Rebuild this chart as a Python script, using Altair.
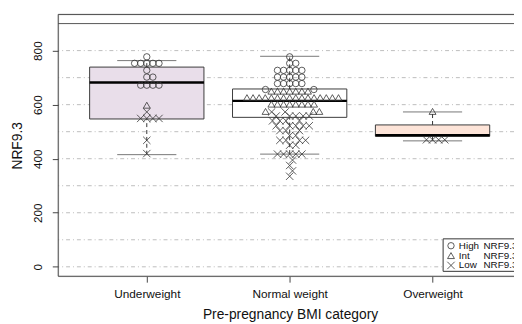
import math
import altair as alt
import pandas as pd

# ---------------- data ----------------
categories = ["Underweight", "Normal weight", "Overweight"]
positions = [1, 2, 3]

# NRF9.3 values of the individual points, by group
uw_high = [777, 753, 753, 753, 753, 753, 727, 702, 702, 672, 672, 672, 672]
uw_int = [598]
uw_low = [573, 549, 549, 549, 549, 468, 419]

nw_high = [777, 753, 753, 727, 727, 727, 727, 727, 702, 702, 702, 702, 702,
           678, 678, 678, 678, 678, 656, 656]
nw_int = [650] * 7 + [626] * 16 + [602] * 8 + [575] * 3
nw_low = [573, 573, 558, 558, 558, 558, 558, 540, 540, 540, 540,
          522, 522, 522, 522, 522, 504, 504, 504, 486, 486,
          468, 468, 468, 468, 450, 450, 417, 417, 417, 417, 417,
          395, 375, 355, 335]

ow_high = []
ow_int = [575]
ow_low = [470, 470, 470, 470]

# box statistics (lower whisker, Q1, median, Q3, upper whisker)
box_lower = [415, 417, 466]
box_q1 = [547, 553, 483]
box_median = [682, 614, 487]
box_q3 = [739, 658, 525]
box_upper = [763, 779, 573]
box_fill = ["#E9DEEA", "#FFFFFF", "#FDE4D8"]

grid_values = [0, 100, 200, 300, 400, 500, 600, 700, 800]
ref_line = [900]
y_ticks = [0, 200, 400, 600, 800]

group_names = ["High", "Int", "Low"]
legend_words = ["High", "Int", "Low"]
legend_suffix = "NRF9.3"

# ---------------- layout ----------------
W, H = 463, 266
X_DOM = [0.38, 3.57]
Y_DOM = [-35, 934]
PX_X = W / (X_DOM[1] - X_DOM[0])
PX_Y = H / (Y_DOM[1] - Y_DOM[0])
BOX_HALF = 0.4
CAP_HALF = 0.207
FONT = "Liberation Sans"


def swarm(values, d=6.2):
    """Simple beeswarm ('swarm' method): offsets in data units of x."""
    order = sorted(range(len(values)), key=lambda i: values[i])
    placed = []
    offs = [0.0] * len(values)
    for i in order:
        y = values[i] * PX_Y
        near = [(px, py) for px, py in placed if abs(py - y) < d]
        cands = [0.0]
        for px, py in near:
            dx = math.sqrt(max(d * d - (py - y) ** 2, 0))
            cands += [px + dx, px - dx]
        cands.sort(key=lambda c: (round(abs(c), 6), -c))
        chosen = 0.0
        for c in cands:
            if all((c - px) ** 2 + (y - py) ** 2 >= d * d - 1e-6 for px, py in near):
                chosen = c
                break
        placed.append((chosen, y))
        offs[i] = chosen / PX_X
    return offs


rows = []
groups_by_cat = [
    (uw_high, uw_int, uw_low),
    (nw_high, nw_int, nw_low),
    (ow_high, ow_int, ow_low),
]
for cat, pos, grp in zip(categories, positions, groups_by_cat):
    vals, labs = [], []
    for name, arr in zip(group_names, grp):
        vals += arr
        labs += [name] * len(arr)
    offs = swarm(vals)
    for v, l, o in zip(vals, labs, offs):
        rows.append({"cat": cat, "group": l, "value": v, "x": pos + o})
points = pd.DataFrame(rows)

boxes = pd.DataFrame({
    "cat": categories, "pos": positions,
    "lower": box_lower, "q1": box_q1, "median": box_median,
    "q3": box_q3, "upper": box_upper, "fill": box_fill,
})
boxes["xl"] = boxes["pos"] - BOX_HALF
boxes["xr"] = boxes["pos"] + BOX_HALF
boxes["cl"] = boxes["pos"] - CAP_HALF
boxes["cr"] = boxes["pos"] + CAP_HALF

xs = alt.Scale(domain=X_DOM, nice=False, zero=False)
ys = alt.Scale(domain=Y_DOM, nice=False, zero=False)

label_expr = " : ".join(
    f"datum.value == {p} ? '{c}'" for p, c in zip(positions, categories)
) + " : ''"

grid = alt.Chart(pd.DataFrame({"g": grid_values})).mark_rule(
    color="#BDBDBD", strokeDash=[4, 3, 1, 3], strokeWidth=1
).encode(y=alt.Y("g:Q", scale=ys))

ref = alt.Chart(pd.DataFrame({"g": ref_line})).mark_rule(
    color="#555555", strokeWidth=1
).encode(y=alt.Y("g:Q", scale=ys))

whisk_hi = alt.Chart(boxes).mark_rule(color="#333333", strokeDash=[4, 3], strokeWidth=1).encode(
    x=alt.X("pos:Q", scale=xs), y=alt.Y("q3:Q", scale=ys), y2="upper:Q")
whisk_lo = alt.Chart(boxes).mark_rule(color="#333333", strokeDash=[4, 3], strokeWidth=1).encode(
    x=alt.X("pos:Q", scale=xs), y=alt.Y("lower:Q", scale=ys), y2="q1:Q")
cap_hi = alt.Chart(boxes).mark_rule(color="#777777", strokeWidth=1).encode(
    x=alt.X("cl:Q", scale=xs), x2="cr:Q", y=alt.Y("upper:Q", scale=ys))
cap_lo = alt.Chart(boxes).mark_rule(color="#777777", strokeWidth=1).encode(
    x=alt.X("cl:Q", scale=xs), x2="cr:Q", y=alt.Y("lower:Q", scale=ys))

box = alt.Chart(boxes).mark_rect(stroke="#3A3A3A", strokeWidth=1).encode(
    x=alt.X("xl:Q", scale=xs), x2="xr:Q",
    y=alt.Y("q1:Q", scale=ys), y2="q3:Q",
    fill=alt.Fill("fill:N", scale=None),
)
med = alt.Chart(boxes).mark_rule(color="#000000", strokeWidth=2.5).encode(
    x=alt.X("xl:Q", scale=xs), x2="xr:Q", y=alt.Y("median:Q", scale=ys))

x_path = "M-1,-1L1,1M-1,1L1,-1"
pts = alt.Chart(points).mark_point(filled=False, strokeWidth=0.8, color="#333333", opacity=1).encode(
    x=alt.X("x:Q", scale=xs,
            axis=alt.Axis(values=positions, labelExpr=label_expr, title="Pre-pregnancy BMI category",
                          grid=False, domain=False, tickSize=6, tickColor="#444444",
                          labelPadding=7, labelFontSize=12, labelFont=FONT, labelColor="#111111",
                          titleFontSize=14, titleFont=FONT, titleFontWeight="normal", titleColor="#111111",
                          titleX=235.5, titleY=39, titleBaseline="middle", titleAlign="center")),
    y=alt.Y("value:Q", scale=ys,
            axis=alt.Axis(values=y_ticks, title="NRF9.3", grid=False, domain=False, tickSize=6,
                          tickColor="#444444", labelAngle=270, labelAlign="center",
                          labelBaseline="bottom", labelPadding=8, labelFontSize=12, labelFont=FONT,
                          labelColor="#111111", titleFontSize=14, titleFont=FONT,
                          titleFontWeight="normal", titleColor="#111111", titleAngle=270,
                          titleX=-41.5, titleY=H / 2, titleBaseline="middle", titleAlign="center")),
    shape=alt.Shape("group:N", scale=alt.Scale(domain=group_names,
                                               range=["circle", "triangle-up", x_path]), legend=None),
    size=alt.Size("group:N", scale=alt.Scale(domain=group_names, range=[42, 56, 34]), legend=None),
)

# frame (left, top, bottom; the right edge falls outside the picture)
frame_df = pd.DataFrame({"k": [0]})
frame_left = alt.Chart(frame_df).mark_rule(color="#444444").encode(
    x=alt.value(0), y=alt.value(0), y2=alt.value(H))
frame_top = alt.Chart(frame_df).mark_rule(color="#444444").encode(
    x=alt.value(0), x2=alt.value(W), y=alt.value(0))
frame_bot = alt.Chart(frame_df).mark_rule(color="#444444").encode(
    x=alt.value(0), x2=alt.value(W), y=alt.value(H))

# legend (drawn inside the plot, cut by the right edge as in the original)
LG_LEFT, LG_TOP, LG_ROW = 391, 228, 10
leg = pd.DataFrame({
    "group": group_names, "word": legend_words, "suffix": [legend_suffix] * 3,
    "py": [LG_TOP + 7 + i * LG_ROW for i in range(3)],
})
leg_box = alt.Chart(frame_df).mark_rect(fill="white", stroke="#333333", strokeWidth=1, clip=True).encode(
    x=alt.value(LG_LEFT), x2=alt.value(LG_LEFT + 90), y=alt.value(LG_TOP), y2=alt.value(LG_TOP + 33))
leg_sym = alt.Chart(leg).mark_point(filled=False, strokeWidth=0.8, color="#333333", opacity=1).encode(
    x=alt.value(LG_LEFT + 8), y=alt.Y("py:Q", scale=None),
    shape=alt.Shape("group:N", scale=alt.Scale(domain=group_names,
                                               range=["circle", "triangle-up", x_path]), legend=None),
    size=alt.Size("group:N", scale=alt.Scale(domain=group_names, range=[28, 34, 14]), legend=None),
)
leg_word = alt.Chart(leg).mark_text(align="left", baseline="middle", font=FONT, fontSize=10,
                                    color="#111111", clip=True).encode(
    x=alt.value(LG_LEFT + 16), y=alt.Y("py:Q", scale=None), text="word:N")
leg_suf = alt.Chart(leg).mark_text(align="left", baseline="middle", font=FONT, fontSize=10,
                                   color="#111111", clip=True).encode(
    x=alt.value(LG_LEFT + 41), y=alt.Y("py:Q", scale=None), text="suffix:N")

chart = alt.layer(
    grid, ref, whisk_hi, whisk_lo, cap_hi, cap_lo, box, med, pts,
    frame_left, frame_top, frame_bot, leg_box, leg_sym, leg_word, leg_suf,
).properties(
    width=W, height=H,
    autosize=alt.AutoSizeParams(type="none"),
    padding={"left": 51, "top": 4, "right": 0, "bottom": 46},
).configure_view(stroke=None).configure(background="white")

chart.save("out.html", embed_options={"renderer": "svg", "actions": False})
